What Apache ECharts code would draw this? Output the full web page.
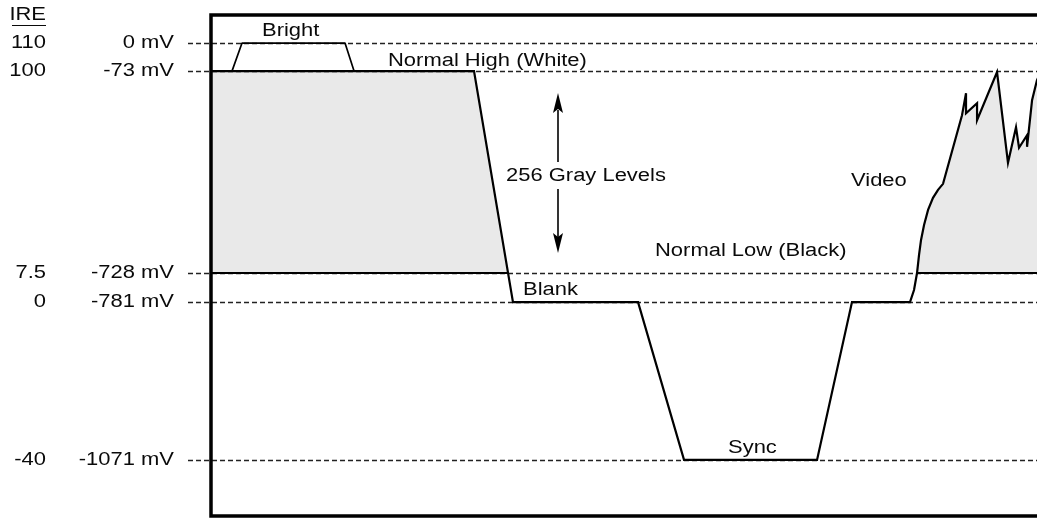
<!DOCTYPE html>
<html><head><meta charset="utf-8">
<script src="https://cdn.jsdelivr.net/npm/echarts@6/dist/echarts.min.js"></script>
<style>html,body{margin:0;padding:0;background:#fff}#c{width:1037px;height:518px}</style>
</head><body><div id="c"></div>
<script>
// Reference levels (schematic display height on the diagram, not to scale)
const ireLabels = ['110', '100', '7.5', '0', '-40'];
const mvLabels = ['0 mV', '-73 mV', '-728 mV', '-781 mV', '-1071 mV'];
const levelHeights = [94.4, 88.8, 48.5, 42.7, 11.2];

// Main video signal trace (time units, display height)
const signalX = [0, 31.46, 36.12, 51.08, 56.58, 72.49, 76.67, 83.61, 84.09, 84.45, 84.69, 84.93, 85.29, 85.77, 86.36, 86.96, 87.56, 89.83, 90.31, 90.31, 91.63, 91.63, 94.02, 95.33, 96.29, 96.65, 97.61, 97.61, 98.21, 98.80, 99.76];
const signalY = [88.8, 88.8, 42.7, 42.7, 11.2, 11.2, 42.7, 42.7, 45.1, 48.5, 52.1, 55.1, 58.1, 61.1, 63.5, 65.1, 66.3, 80.0, 84.4, 80.4, 82.4, 79.0, 88.6, 70.5, 77.6, 73.5, 76.0, 73.7, 83.0, 87.0, 90.6];

// "Bright" overshoot trace
const brightX = [2.51, 3.71, 16.03, 17.11];
const brightY = [88.8, 94.4, 94.4, 88.8];

// Black-level (Normal Low) solid segments
const blackSegA = [0, 35.54];
const blackSegB = [84.33, 100];

// Gray filled regions
const whiteFillX = [0, 31.46, 35.54];
const whiteFillY = [88.8, 88.8, 48.5];
const videoFillX = [84.33, 84.69, 84.93, 85.29, 85.77, 86.36, 86.96, 87.56, 89.83, 90.31, 90.31, 91.63, 91.63, 94.02, 95.33, 96.29, 96.65, 97.61, 97.61, 98.21, 98.80, 99.76];
const videoFillY = [48.5, 52.1, 55.1, 58.1, 61.1, 63.5, 65.1, 66.3, 80.0, 84.4, 80.4, 82.4, 79.0, 88.6, 70.5, 77.6, 73.5, 76.0, 73.7, 83.0, 87.0, 90.6];

const blackLevel = levelHeights[2];
const X_MAX = 98.8;
const zip = (xs, ys) => xs.map((x, i) => [x, ys[i]]);

const FONT = 'Liberation Sans';
const FS = 18;
const SX = 1.22;
const fontStr = FS + 'px "' + FONT + '"';
const TXT = '#0a0a0a';

const chart = echarts.init(document.getElementById('c'), null, {renderer: 'canvas'});

function levelItem(params, api) {
  const i = params.dataIndex;
  const h = levelHeights[i];
  const p0 = api.coord([0, h]);
  const p1 = api.coord([X_MAX, h]);
  const y = Math.round(p0[1]) + 0.5;
  return {
    type: 'group',
    children: [
      {type: 'line', shape: {x1: p0[0] - 23, y1: y, x2: p1[0] + 5, y2: y},
       style: {stroke: '#222', lineWidth: 1.3, lineDash: [5, 3]}},
      {type: 'text', x: p0[0] - 37, y: y, scaleX: SX,
       style: {text: mvLabels[i], fill: TXT, font: fontStr, align: 'right', verticalAlign: 'middle'}},
      {type: 'text', x: 46, y: y, scaleX: SX,
       style: {text: ireLabels[i], fill: TXT, font: fontStr, align: 'right', verticalAlign: 'middle'}}
    ]
  };
}

function annot(text, left, cy) {
  return {type: 'text', x: left, y: cy, scaleX: SX, z: 50,
    style: {text: text, fill: TXT, font: fontStr, align: 'left', verticalAlign: 'middle'}};
}

const option = {
  animation: false,
  backgroundColor: '#fff',
  grid: {left: 211, right: 0, top: 15, bottom: 2, show: false},
  xAxis: {type: 'value', min: 0, max: X_MAX, show: false},
  yAxis: {type: 'value', min: 0, max: 100, show: false},
  series: [
    {type: 'line', name: 'whiteFill', data: zip(whiteFillX, whiteFillY), symbol: 'none', z: 1,
     lineStyle: {width: 0}, areaStyle: {color: '#e9e9e9', opacity: 1, origin: blackLevel}},
    {type: 'line', name: 'videoFill', data: zip(videoFillX, videoFillY), symbol: 'none', z: 1,
     lineStyle: {width: 0}, areaStyle: {color: '#e9e9e9', opacity: 1, origin: blackLevel}},
    {type: 'custom', name: 'levels', data: levelHeights.map((h, i) => i), renderItem: levelItem, z: 2, silent: true},
    {type: 'line', name: 'blackA', data: blackSegA.map(x => [x, blackLevel]), symbol: 'none', z: 3,
     lineStyle: {color: '#000', width: 1.8}},
    {type: 'line', name: 'blackB', data: blackSegB.map(x => [x, blackLevel]), symbol: 'none', z: 3,
     lineStyle: {color: '#000', width: 1.8}},
    {type: 'line', name: 'bright', data: zip(brightX, brightY), symbol: 'none', z: 3,
     lineStyle: {color: '#000', width: 1.7}},
    {type: 'line', name: 'signal', data: zip(signalX, signalY), symbol: 'none', z: 4,
     lineStyle: {color: '#000', width: 2.2, join: 'miter'}}
  ],
  graphic: [
    {type: 'rect', z: 100, shape: {x: 211, y: 15, width: 840, height: 501},
     style: {fill: 'none', stroke: '#000', lineWidth: 3.5}},
    {type: 'text', x: 46, y: 15, scaleX: SX, z: 50,
     style: {text: 'IRE', fill: TXT, font: fontStr, align: 'right', verticalAlign: 'middle'}},
    {type: 'line', z: 50, shape: {x1: 12, y1: 25.5, x2: 46, y2: 25.5}, style: {stroke: TXT, lineWidth: 1.2}},
    annot('Bright', 262, 31),
    annot('Normal High (White)', 388, 61),
    annot('256 Gray Levels', 506, 176),
    annot('Video', 851, 181),
    annot('Normal Low (Black)', 655, 251),
    annot('Blank', 523, 290),
    annot('Sync', 728, 448),
    {type: 'line', z: 50, shape: {x1: 558, y1: 110, x2: 558, y2: 162}, style: {stroke: '#000', lineWidth: 1.6}},
    {type: 'line', z: 50, shape: {x1: 558, y1: 189, x2: 558, y2: 237}, style: {stroke: '#000', lineWidth: 1.6}},
    {type: 'polygon', z: 50, shape: {points: [[558, 93], [553, 113], [558, 109], [563, 113]]}, style: {fill: '#000'}},
    {type: 'polygon', z: 50, shape: {points: [[558, 253], [553, 233], [558, 237], [563, 233]]}, style: {fill: '#000'}}
  ]
};
chart.setOption(option);
</script>
</body></html>
